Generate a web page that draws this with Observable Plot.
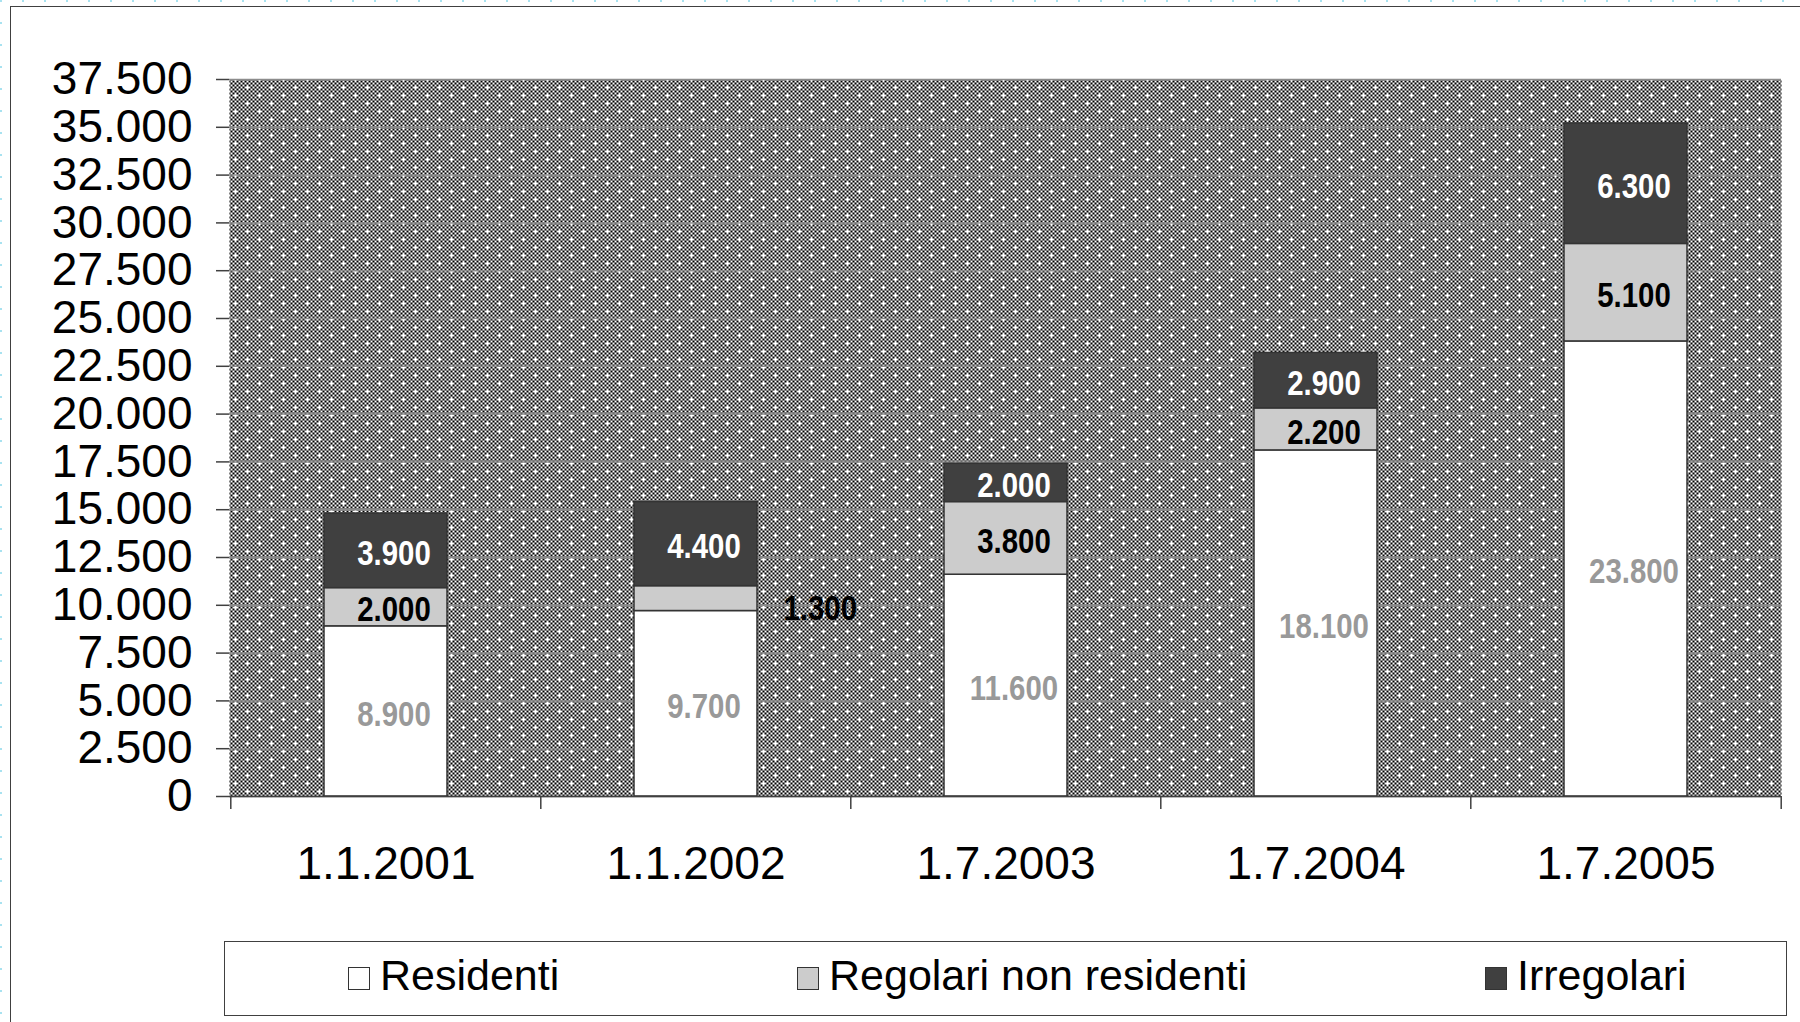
<!DOCTYPE html>
<html><head><meta charset="utf-8">
<script src="https://cdn.jsdelivr.net/npm/d3@7"></script>
<script src="https://cdn.jsdelivr.net/npm/@observablehq/plot@0.6"></script>
<style>
html,body{margin:0;padding:0;background:#fff;}
#wrap{position:relative;width:1800px;height:1022px;overflow:hidden;font-family:"Liberation Sans",Arial,sans-serif;}
#frame{position:absolute;left:10px;top:6px;width:1900px;height:1100px;border:1.5px solid #404040;box-sizing:border-box;}
#dotsTop{position:absolute;left:0;top:0;width:1800px;height:2px;background:repeating-linear-gradient(to right,#a8e2f0 0 2px,transparent 2px 22px);}
#dotsLeft{position:absolute;left:0;top:0;width:2px;height:1022px;background:repeating-linear-gradient(to bottom,#a8e2f0 0 2px,transparent 2px 22px);}
#chart{position:absolute;left:0;top:0;}
#legend{position:absolute;left:224px;top:941px;width:1563px;height:75px;border:1.5px solid #404040;box-sizing:border-box;background:#fff;}
.item{position:absolute;top:0;height:100%;display:flex;align-items:center;font-size:43px;color:#000;padding-bottom:6px;box-sizing:border-box;white-space:nowrap;}
.sw{width:20px;height:21px;border:1.5px solid #333;margin-right:10px;margin-top:6px;}
</style></head>
<body><div id="wrap"><div id="frame"></div><div id="dotsTop"></div><div id="dotsLeft"></div><div id="chart"></div><div id="legend"></div></div>
<script>
// ---- data ----
const dates = ["1.1.2001", "1.1.2002", "1.7.2003", "1.7.2004", "1.7.2005"];
const series = ["Residenti", "Regolari non residenti", "Irregolari"];
const residenti = [8900, 9700, 11600, 18100, 23800];
const regolari = [2000, 1300, 3800, 2200, 5100];
const irregolari = [3900, 4400, 2000, 2900, 6300];
const yTicks = [0, 2500, 5000, 7500, 10000, 12500, 15000, 17500, 20000, 22500, 25000, 27500, 30000, 32500, 35000, 37500];
const fills = ["#ffffff", "#cccccc", "#404040"];
const labelColors = ["#999999", "#000000", "#ffffff"];

// ---- derived table ----
const valuesBySeries = [residenti, regolari, irregolari];
const rows = dates.flatMap((d, i) => {
  let acc = 0;
  return valuesBySeries.map((arr, k) => {
    const y1 = acc; acc += arr[i];
    return {date: d, series: series[k], k, value: arr[i], y1, y2: acc};
  });
});

const fmt = d3.formatLocale({decimal: ",", thousands: ".", grouping: [3], currency: ["", ""]}).format(",d");

const W = 1800, H = 935, mL = 229, mR = 19, mT = 79, mB = 139;
const n = dates.length, step = (W - mL - mR) / n;
const pIn = 0.604, bw = step * (1 - pIn);
const yMax = 37500, pxPerUnit = (H - mT - mB) / yMax;
const labelFont = '"Liberation Sans", Arial, sans-serif';
const fits = r => r.value * pxPerUnit >= 30;

const textMarks = [];
series.forEach((s, k) => {
  textMarks.push(Plot.text(rows.filter(r => r.k === k && fits(r)), {
    x: "date", y: r => (r.y1 + r.y2) / 2, text: r => fmt(r.value),
    fill: labelColors[k], fontSize: 35, fontWeight: "bold", fontFamily: labelFont, dx: 8, dy: 3
  }));
});
textMarks.push(Plot.text(rows.filter(r => !fits(r)), {
  x: "date", y: r => (r.y1 + r.y2) / 2, text: r => fmt(r.value),
  fill: "#000", fontSize: 35, fontWeight: "bold", fontFamily: labelFont,
  textAnchor: "start", dx: bw / 2 + 26, dy: 10
}));

const chart = Plot.plot({
  width: W, height: H, marginLeft: mL, marginRight: mR, marginTop: mT, marginBottom: mB,
  style: {fontFamily: '"Liberation Sans", Arial, sans-serif', background: "transparent", color: "#000", overflow: "visible"},
  x: {type: "band", domain: dates, paddingInner: pIn, paddingOuter: pIn / 2, label: null},
  y: {domain: [0, yMax], label: null},
  color: {domain: series, range: fills},
  marks: [
    Plot.frame({fill: "url(#chk)"}),
    Plot.gridY(yTicks, {stroke: "#8c8c8c", strokeOpacity: 1, strokeWidth: 1.5}),
    Plot.barY(rows, {x: "date", y1: "y1", y2: "y2", fill: "series", stroke: "#333", strokeWidth: 1.5}),
    Plot.ruleY([0], {stroke: "#404040", strokeWidth: 1.5}),
    Plot.axisY({ticks: yTicks, tickSize: 13, tickPadding: 24, tickFormat: fmt, fontSize: 46, stroke: "#404040", strokeWidth: 1.5}),
    Plot.axisX({ticks: dates, tickSize: 13, dx: -step / 2, tickFormat: () => "", stroke: "#404040", strokeWidth: 1.5}),
    Plot.axisX({ticks: [dates[n - 1]], tickSize: 13, dx: step / 2, tickFormat: () => "", stroke: "#404040", strokeWidth: 1.5}),
    Plot.axisX({ticks: dates, tickSize: 0, tickPadding: 50, fontSize: 46}),
    ...textMarks
  ]
});

const svg = d3.select(chart);
// condensed (narrow) look for the value labels
svg.selectAll('g[aria-label="text"] text').each(function () {
  const t = this.getAttribute("transform") || "";
  this.setAttribute("transform", t + " scale(0.84,1)");
});

// checker pattern: 2px cells, with a white cross where a black cell is dropped (dotted look)
const cols = 12, rowsN = 8, c = 2;
const defs = svg.insert("defs", ":first-child");
const pat = defs.append("pattern").attr("id", "chk").attr("patternUnits", "userSpaceOnUse")
  .attr("width", cols * c).attr("height", rowsN * c).attr("shape-rendering", "crispEdges");
pat.append("rect").attr("width", cols * c).attr("height", rowsN * c).attr("fill", "#fff");
for (let i = 0; i < cols; i++) for (let j = 0; j < rowsN; j++) {
  if ((i + j) % 2 === 0 && !(i === 3 && j === 3) && !(i === 9 && j === 7)) {
    pat.append("rect").attr("x", i * c).attr("y", j * c).attr("width", c).attr("height", c).attr("fill", "#000");
  }
}
document.getElementById("chart").appendChild(chart);

// legend
const legendX = [123, 572, 1260];
const legend = document.getElementById("legend");
series.forEach((s, k) => {
  const it = document.createElement("div");
  it.className = "item";
  it.style.left = legendX[k] + "px";
  const sw = document.createElement("div");
  sw.className = "sw";
  sw.style.background = fills[k];
  it.appendChild(sw);
  const t = document.createElement("span");
  t.textContent = s;
  it.appendChild(t);
  legend.appendChild(it);
});
</script>
</body></html>
